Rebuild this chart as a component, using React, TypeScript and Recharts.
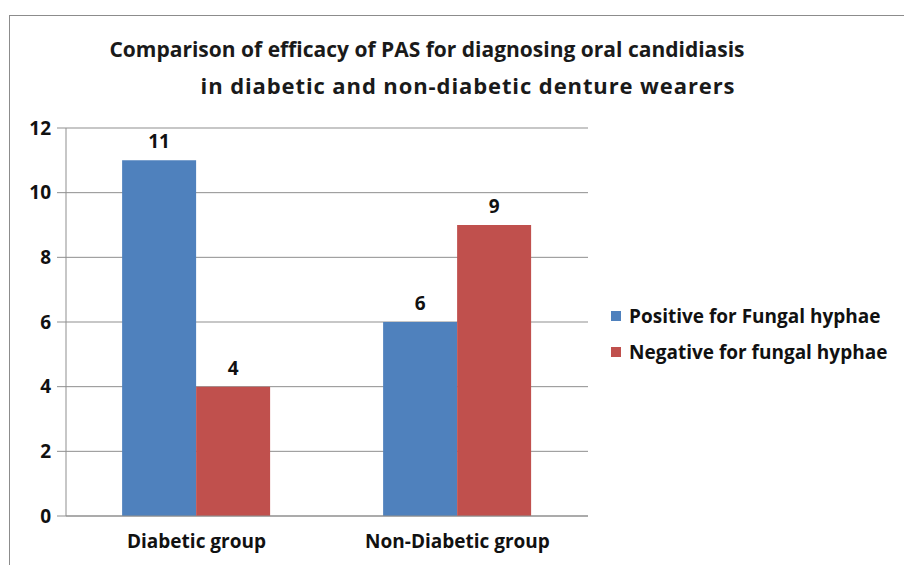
import { BarChart, Bar, XAxis, YAxis, CartesianGrid, LabelList } from 'recharts'

const groups = ['Diabetic group', 'Non-Diabetic group']
const positive = [11, 6]
const negative = [4, 9]
const yTicks = [0, 2, 4, 6, 8, 10, 12]

const series = [
  { key: 'positive', name: 'Positive for Fungal hyphae', color: '#4F81BD' },
  { key: 'negative', name: 'Negative for fungal hyphae', color: '#C0504D' },
]

const data = groups.map((name, i) => ({ name, positive: positive[i], negative: negative[i] }))

const font = '"Open Sans", Lato, sans-serif'
const tickStyle = { fill: '#111', fontSize: 19, fontWeight: 700, fontFamily: font }

export default function App() {
  return (
    <div style={{ position: 'absolute', left: 0, top: 0, width: 904, height: 565, background: '#fff', fontFamily: font, overflow: 'hidden' }}>
      {/* outer frame, only top and left edges show */}
      <div style={{ position: 'absolute', left: 9, top: 15, right: 0, bottom: 0, borderTop: '1px solid #8c8c8c', borderLeft: '1px solid #8c8c8c' }} />
      <div style={{ position: 'absolute', left: 0, top: 31, width: 854, textAlign: 'center', fontWeight: 700, fontSize: 21, lineHeight: '36px', color: '#1a1a1a', whiteSpace: 'nowrap' }}>
        Comparison of efficacy of PAS for diagnosing oral candidiasis
      </div>
      <div style={{ position: 'absolute', left: 0, top: 67, width: 936, textAlign: 'center', fontWeight: 700, fontSize: 22, lineHeight: '36px', letterSpacing: 0.9, color: '#1a1a1a', whiteSpace: 'nowrap' }}>
        in diabetic and non-diabetic denture wearers
      </div>
      <BarChart
        width={904}
        height={565}
        data={data}
        margin={{ top: 128, right: 316, bottom: 0, left: 0 }}
        barCategoryGap="21.5%"
        barGap={0}
        style={{ position: 'absolute', left: 0, top: 0 }}
      >
        <CartesianGrid vertical={false} stroke="#8f8f8f" strokeWidth={1} />
        <XAxis
          dataKey="name"
          height={49}
          stroke="#8f8f8f"
          tickLine={false}
          tickSize={0}
          tickMargin={19}
          tick={tickStyle}
        />
        <YAxis
          width={66}
          domain={[0, 12]}
          ticks={yTicks}
          stroke="#8f8f8f"
          tickSize={9}
          tickMargin={6}
          tick={tickStyle}
        />
        {series.map((s) => (
          <Bar key={s.key} dataKey={s.key} name={s.name} fill={s.color} isAnimationActive={false}>
            <LabelList dataKey={s.key} position="top" offset={12} style={tickStyle} />
          </Bar>
        ))}
      </BarChart>
      <div style={{ position: 'absolute', left: 611, top: 298 }}>
        {series.map((s) => (
          <div key={s.key} style={{ display: 'flex', alignItems: 'center', height: 36, fontSize: 19, fontWeight: 700, color: '#111', whiteSpace: 'nowrap' }}>
            <span style={{ width: 10, height: 10, background: s.color, marginRight: 8 }} />
            {s.name}
          </div>
        ))}
      </div>
    </div>
  )
}
